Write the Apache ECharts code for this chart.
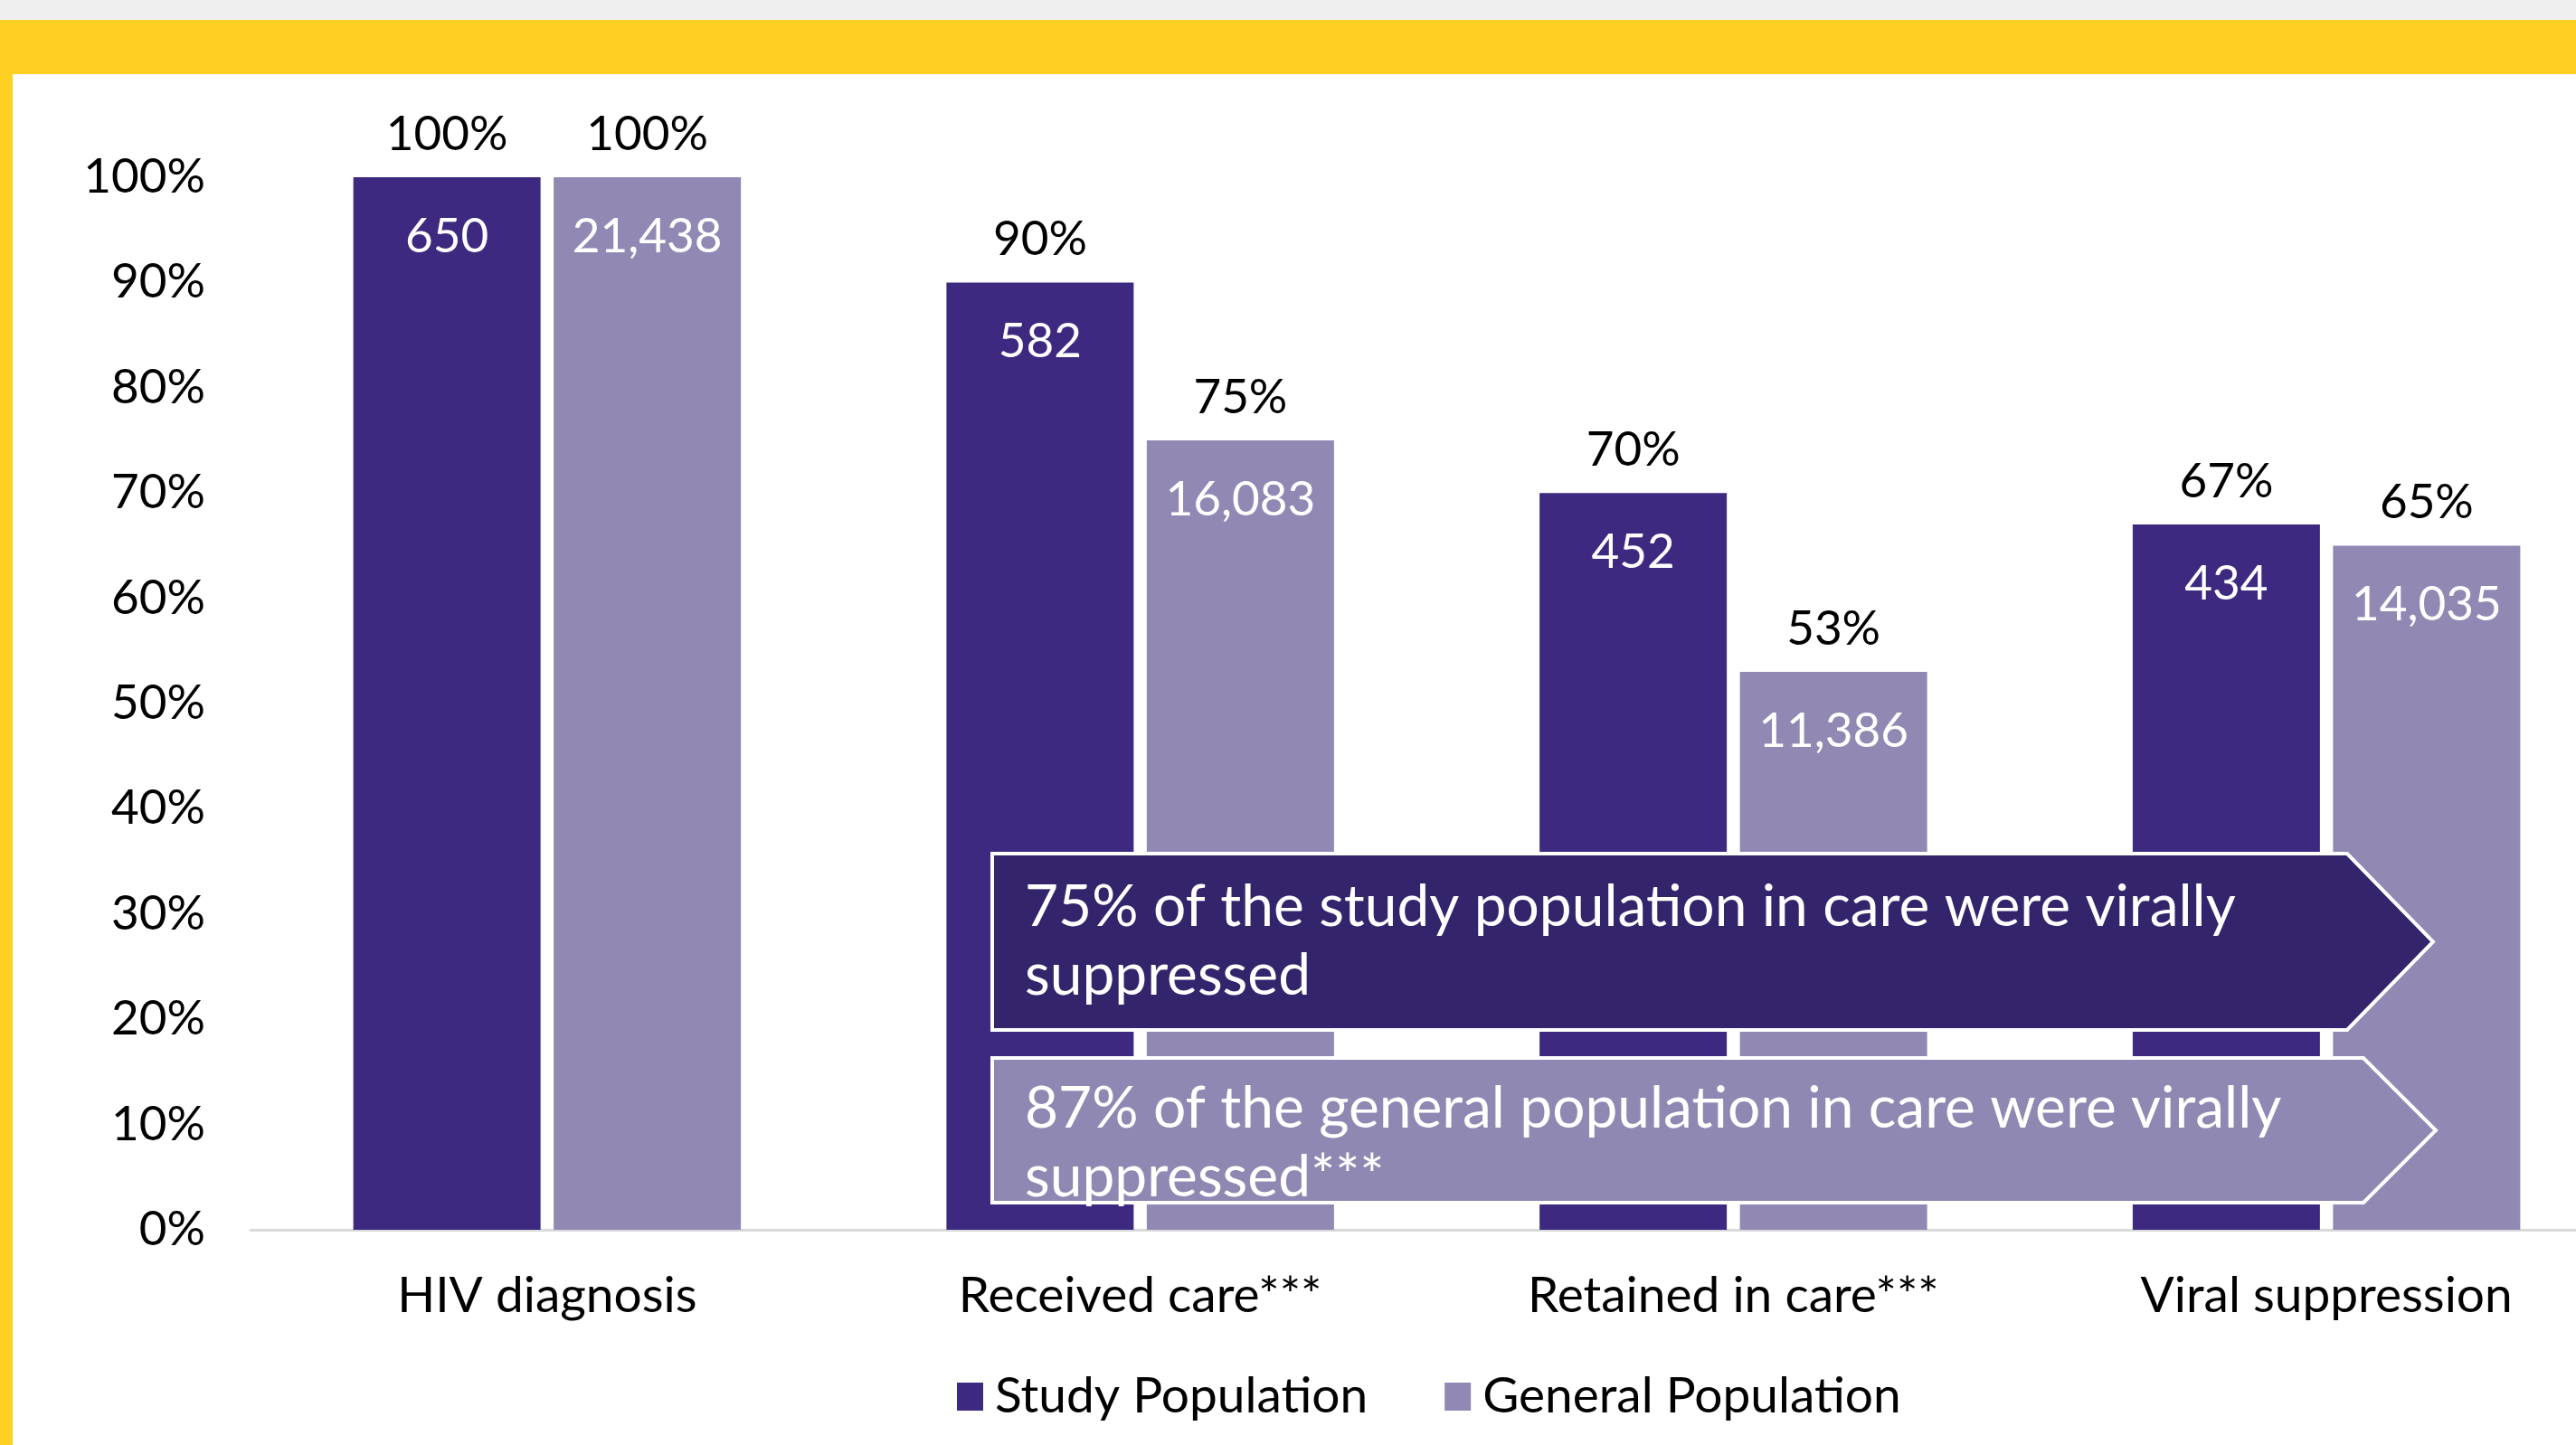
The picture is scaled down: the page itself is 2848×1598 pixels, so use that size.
<!DOCTYPE html>
<html>
<head>
<meta charset="utf-8">
<script src="https://cdn.jsdelivr.net/npm/echarts@6/dist/echarts.min.js"></script>
<style>
  html, body { margin: 0; padding: 0; background: #ffffff; }
  #chart { width: 2848px; height: 1598px; }
</style>
</head>
<body>
<div id="chart"></div>
<script>
// ---- Data ----
const categories = ['HIV diagnosis', 'Received care***', 'Retained in care***', 'Viral suppression'];
const seriesNames = ['Study Population', 'General Population'];
const studyPct = [100, 90, 70, 67];
const generalPct = [100, 75, 53, 65];
const studyCounts = [650, 582, 452, 434];
const generalCounts = [21438, 16083, 11386, 14035];
const yMin = 0, yMax = 100, yStep = 10;
const callouts = [
  '75% of the study population in care were virally\nsuppressed',
  '87% of the general population in care were virally\nsuppressed***'
];

// ---- Styles ----
const FONT = 'Lato';
const STUDY = '#3D2A80';
const GENERAL = '#9189B4';
const W = 2848, H = 1598;

const chart = echarts.init(document.getElementById('chart'), null, { renderer: 'canvas', width: W, height: H });

function barSeries(name, stack, values, counts, color) {
  return {
    name: name,
    type: 'bar',
    stack: stack,
    data: values,
    barWidth: 207,
    barGap: '7%',
    itemStyle: { color: color },
    label: {
      show: true,
      position: 'insideTop',
      distance: 39,
      color: '#ffffff',
      fontFamily: FONT,
      fontSize: 53,
      formatter: p => counts[p.dataIndex].toLocaleString('en-US')
    },
    emphasis: { disabled: true },
    silent: true
  };
}
function topLabelSeries(stack, values) {
  return {
    name: stack + '-pct',
    type: 'bar',
    stack: stack,
    data: values.map(() => 0),
    barWidth: 207,
    barGap: '7%',
    itemStyle: { color: 'transparent' },
    label: {
      show: true,
      position: 'top',
      distance: 21,
      color: '#000000',
      fontFamily: FONT,
      fontSize: 53,
      formatter: p => values[p.dataIndex] + '%'
    },
    emphasis: { disabled: true },
    silent: true
  };
}

function arrow(x0, y0, xr, xt, y1, fill) {
  const ym = (y0 + y1) / 2;
  return {
    type: 'polygon',
    z: 100,
    shape: { points: [[x0, y0], [xr, y0], [xt, ym], [xr, y1], [x0, y1]] },
    style: { fill: fill, stroke: '#ffffff', lineWidth: 4 }
  };
}
function calloutText(txt, x, y) {
  return {
    type: 'text',
    z: 101,
    x: x, y: y,
    style: {
      text: txt,
      fill: '#ffffff',
      font: '64px ' + FONT,
      lineHeight: 76,
      verticalAlign: 'top',
      align: 'left'
    }
  };
}

const option = {
  backgroundColor: '#ffffff',
  animation: false,
  grid: { left: 277, width: 2623, top: 196, bottom: 238, containLabel: false, outerBoundsMode: 'none' },
  legend: {
    data: seriesNames,
    left: 1053,
    top: 1544 - 32,
    icon: 'rect',
    itemWidth: 29,
    itemHeight: 31,
    itemGap: 85,
    textStyle: { fontFamily: FONT, fontSize: 55, color: '#000000', padding: [0, 0, 0, 8] },
    selectedMode: false
  },
  xAxis: {
    type: 'category',
    data: categories,
    axisLine: { show: true, lineStyle: { color: '#d9d9d9', width: 3 } },
    axisTick: { show: false },
    axisLabel: { color: '#000000', fontFamily: FONT, fontSize: 55, margin: 46 }
  },
  yAxis: {
    type: 'value',
    min: yMin, max: yMax, interval: yStep,
    axisLine: { show: false },
    axisTick: { show: false },
    splitLine: { show: false },
    axisLabel: { color: '#000000', fontFamily: FONT, fontSize: 53, margin: 50, formatter: '{value}%' }
  },
  series: [
    barSeries(seriesNames[0], 's', studyPct, studyCounts, STUDY),
    topLabelSeries('s', studyPct),
    barSeries(seriesNames[1], 'g', generalPct, generalCounts, GENERAL),
    topLabelSeries('g', generalPct)
  ],
  graphic: [
    { type: 'rect', z: 0, shape: { x: 0, y: 0, width: W, height: 22 }, style: { fill: '#efefef' } },
    { type: 'rect', z: 0, shape: { x: 0, y: 22, width: W, height: 60 }, style: { fill: '#FDD023' } },
    { type: 'rect', z: 0, shape: { x: 0, y: 22, width: 14, height: H - 22 }, style: { fill: '#FDD023' } },
    arrow(1097, 944, 2595, 2690, 1139, '#34246B'),
    calloutText(callouts[0], 1133, 1003 - 38),
    arrow(1097, 1170, 2613, 2693, 1330, '#8F88B2'),
    calloutText(callouts[1], 1133, 1226 - 38)
  ]
};
chart.setOption(option);
</script>
</body>
</html>
